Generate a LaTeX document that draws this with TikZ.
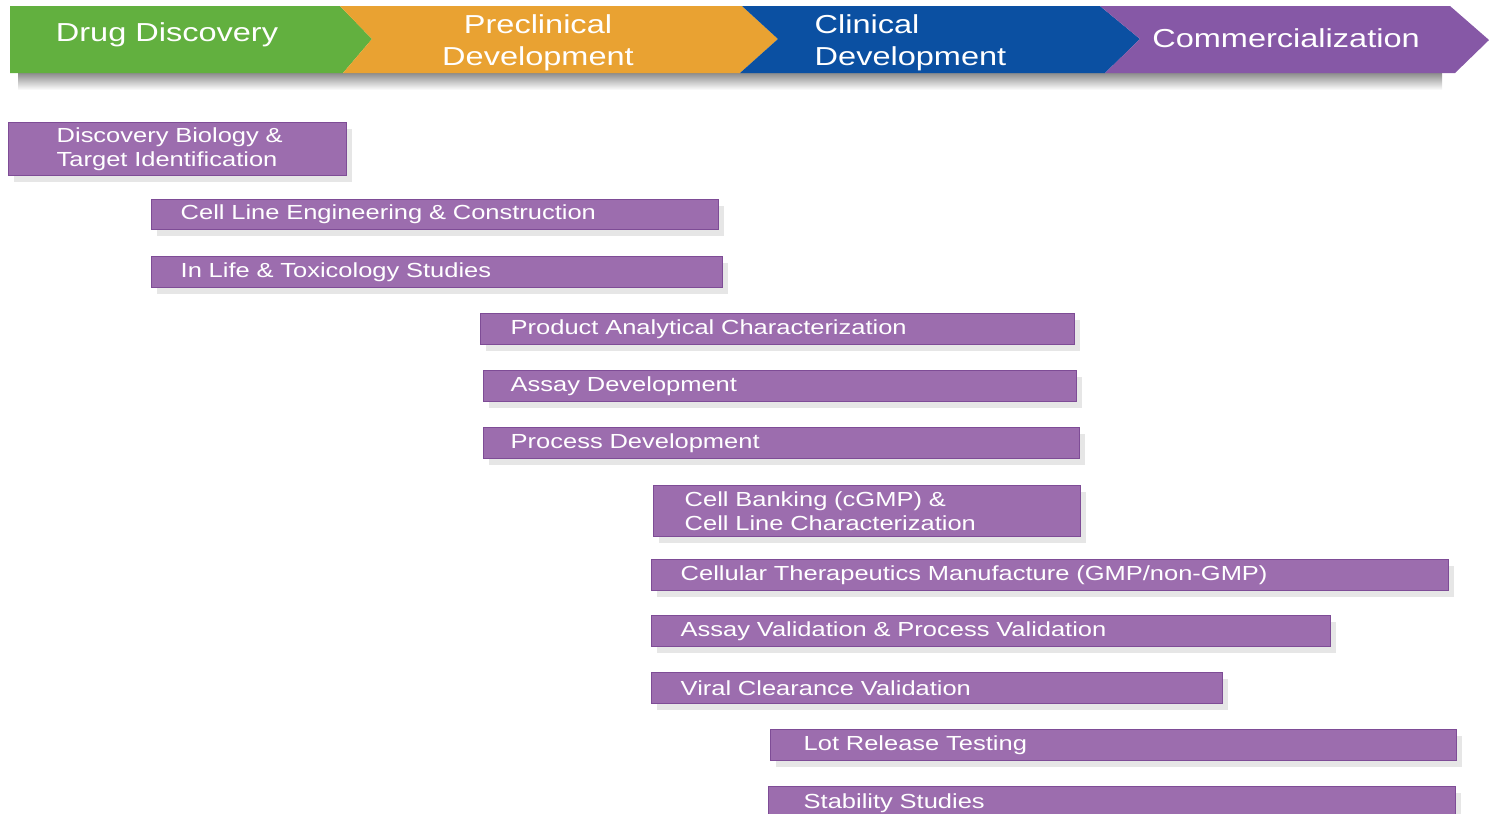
\documentclass[tikz,border=0pt]{standalone}
\usepackage{fontspec}
\setmainfont{Liberation Sans}[FakeStretch=1.25]
\usepackage{tikz}
\usetikzlibrary{calc,
                positioning,
                shadows}

\definecolor{phasegreen}{HTML}{62B03F}
\definecolor{phaseorange}{HTML}{E9A232}
\definecolor{phaseblue}{HTML}{0B50A2}
\definecolor{phasepurple}{HTML}{8658A6}
\definecolor{barfill}{HTML}{9C6DAE}
\definecolor{barline}{HTML}{7E4C96}

\begin{document}
\begin{tikzpicture}[x=0.1mm,y=-0.1mm,
  phase/.style={text=white,font=\fontsize{7.4pt}{9.1pt}\selectfont,align=center,inner sep=0pt},
  bar/.style={fill=barfill,draw=barline,line width=0.4pt,anchor=north west,
              text=white,font=\fontsize{5.8pt}{6.8pt}\selectfont,align=left,
              drop shadow={opacity=0.2,shadow xshift=0.5mm,shadow yshift=-0.6mm}}]
\useasboundingbox (0,0) rectangle (1489,813);

% phase arrow band
\shade[top color=black!45,bottom color=white] (18,73) rectangle (1442,90);
\fill[phasegreen]  (10,6) -- (340,6) -- (372,39) -- (343,73) -- (10,73) -- cycle;
\fill[phaseorange] (340,6) -- (742,6) -- (778,39) -- (740,73) -- (343,73) -- (372,39) -- cycle;
\fill[phaseblue]   (742,6) -- (1100,6) -- (1140,39) -- (1105,73) -- (740,73) -- (778,39) -- cycle;
\fill[phasepurple] (1100,6) -- (1450,6) -- (1489,40) -- (1455,73) -- (1105,73) -- (1140,39) -- cycle;

\node[phase] (discovery) at (167,35) {Drug Discovery};
\node[phase] (preclin) at (538,43) {Preclinical\\Development};
\node[phase,anchor=west,align=left] (clinical) at (814,43) {Clinical\\Development};
\node[phase] (commercial) at (1286,38) {Commercialization};

% activity bars: name/left/right/top/bottom/indent/text
\foreach \nm/\l/\r/\t/\b/\ind/\txt in {
  target/8/346/122/175/48/{Discovery Biology \&\\Target Identification},
  cellline/151/718/199/229/29/{Cell Line Engineering \& Construction},
  inlife/151/722/256/287/29/{In Life \& Toxicology Studies},
  analytic/480/1074/313/344/30/{Product Analytical Characterization},
  assaydev/483/1076/370/401/27/{Assay Development},
  procdev/483/1079/427/458/27/{Process Development},
  banking/653/1080/485/536/31/{Cell Banking (cGMP) \&\\Cell Line Characterization},
  manufact/651/1448/559/590/29/{Cellular Therapeutics Manufacture (GMP/non-GMP)},
  validate/651/1330/615/646/29/{Assay Validation \& Process Validation},
  viral/651/1222/672/703/29/{Viral Clearance Validation},
  lotrel/770/1456/729/760/33/{Lot Release Testing},
  stability/768/1455/786/820/35/{Stability Studies}}
  \node[bar,minimum width={(\r-\l)*0.1mm},minimum height={(\b-\t)*0.1mm},
        inner xsep={\ind*0.1mm},inner ysep=0pt,text width={(\r-\l-2*\ind)*0.1mm}]
        (\nm) at (\l,\t) {\txt};
\end{tikzpicture}
\end{document}
